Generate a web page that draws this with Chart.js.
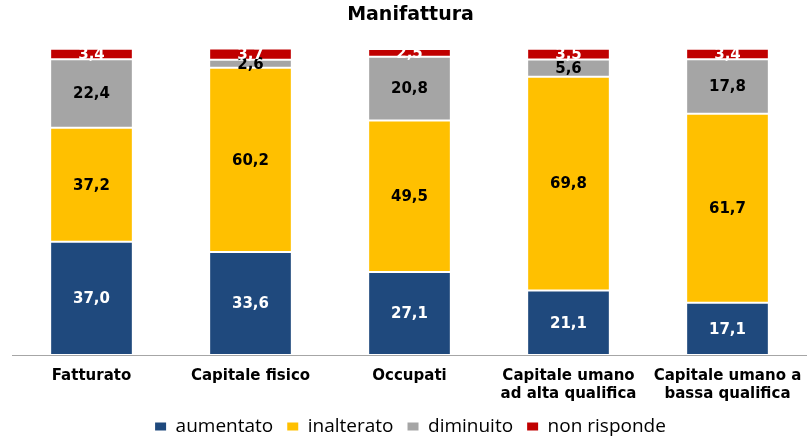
<!DOCTYPE html>
<html>
<head>
<meta charset="utf-8">
<script src="https://cdn.jsdelivr.net/npm/chart.js@4.4.0/dist/chart.umd.min.js"></script>
<style>
    html, body { margin: 0; padding: 0; background: #fff; }
    #wrap { width: 807px; height: 438px; }
</style>
</head>
<body>
<div id="wrap"><canvas id="mainChart" width="807" height="438"></canvas></div>
<script>
// Data
const categories = ['Fatturato', 'Capitale fisico', 'Occupati', ['Capitale umano', 'ad alta qualifica'], ['Capitale umano a', 'bassa qualifica']];
const aumentato = [37.0, 33.6, 27.1, 21.1, 17.1];
const inalterato = [37.2, 60.2, 49.5, 69.8, 61.7];
const diminuito = [22.4, 2.6, 20.8, 5.6, 17.8];
const nonRisponde = [3.4, 3.7, 2.5, 3.5, 3.4];

// Value labels inside the segments
const segmentLabels = {
    id: 'segmentLabels',
    afterDatasetsDraw(chart) {
        const ctx = chart.ctx;
        ctx.save();
        ctx.font = 'bold 15px "DejaVu Sans"';
        ctx.textAlign = 'center';
        ctx.textBaseline = 'middle';
        chart.data.datasets.forEach((ds, i) => {
            const meta = chart.getDatasetMeta(i);
            ctx.fillStyle = ds.labelColor;
            meta.data.forEach((bar, j) => {
                const y = (bar.y + bar.base) / 2;
                ctx.fillText(ds.data[j].toFixed(1).replace('.', ','), bar.x, y + 1);
            });
        });
        ctx.restore();
    }
};

const ctx = document.getElementById('mainChart').getContext('2d');
new Chart(ctx, {
    type: 'bar',
    data: {
        labels: categories,
        datasets: [
            { label: 'aumentato', data: aumentato, backgroundColor: '#1F497D', labelColor: '#fff' },
            { label: 'inalterato', data: inalterato, backgroundColor: '#FFC000', labelColor: '#000' },
            { label: 'diminuito', data: diminuito, backgroundColor: '#A5A5A5', labelColor: '#000' },
            { label: 'non risponde', data: nonRisponde, backgroundColor: '#C00000', labelColor: '#fff' }
        ].map(ds => Object.assign(ds, {
            borderColor: '#ffffff',
            borderWidth: 1,
            borderSkipped: false,
            categoryPercentage: 1,
            barPercentage: 0.52
        }))
    },
    options: {
        responsive: false,
        animation: false,
        layout: { padding: { left: 12, right: -2, top: 0, bottom: -8 } },
        scales: {
            x: {
                stacked: true,
                grid: { display: false },
                border: { color: '#A6A6A6', width: 1 },
                ticks: {
                    color: '#000',
                    font: { family: 'DejaVu Sans', weight: 'bold', size: 15 },
                    padding: 4,
                    maxRotation: 0,
                    autoSkip: false
                },
                afterFit(scale) {
                    scale.paddingLeft = 0;
                    scale.paddingRight = 0;
                    scale.height = 48;
                }
            },
            y: {
                stacked: true,
                display: false,
                min: 0,
                max: 100
            }
        },
        plugins: {
            title: {
                display: true,
                text: 'Manifattura',
                color: '#000',
                font: { family: 'DejaVu Sans', weight: 'bold', size: 19 },
                padding: { top: 4, bottom: 22 }
            },
            legend: {
                position: 'bottom',
                labels: {
                    color: '#000',
                    font: { family: 'Open Sans', size: 19 },
                    boxWidth: 11,
                    boxHeight: 8,
                    padding: 14,
                    generateLabels(chart) {
                        return Chart.defaults.plugins.legend.labels.generateLabels(chart)
                            .map(l => Object.assign(l, { lineWidth: 0 }));
                    }
                }
            },
            tooltip: { enabled: false }
        }
    },
    plugins: [segmentLabels]
});
</script>
</body>
</html>
